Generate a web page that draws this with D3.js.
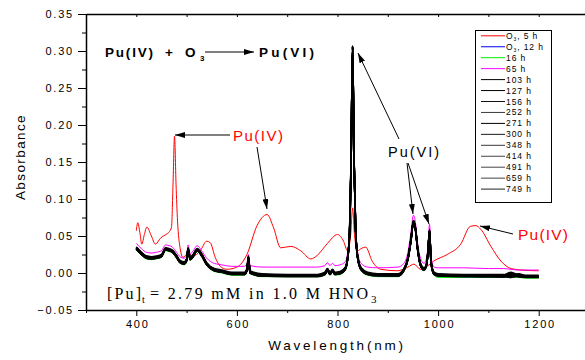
<!DOCTYPE html>
<html><head><meta charset="utf-8">
<script src="https://cdn.jsdelivr.net/npm/d3@7"></script>
<style>
html,body{margin:0;padding:0;background:#fff;}
svg{display:block;font-family:"Liberation Sans",Arial,sans-serif;}
</style></head>
<body><svg id="c" width="585" height="360"></svg>
<script>
// ---- data ----
const wlIV = [400,403,407,411,416,421,430,438,448,461,466,470,473,476,479,482,487,493,503,513,527,540,547,557,567,580,600,620,640,660,673,687,707,727,747,760,780,800,812,820,826,830,834,840,847,856,869,886,919,940,952,965,978,991,1018,1045,1064,1075,1085,1105,1125,1145,1165,1200];
const abs5h = [0.057,0.068,0.055,0.039,0.052,0.062,0.050,0.039,0.047,0.053,0.056,0.062,0.120,0.185,0.120,0.070,0.034,0.021,0.027,0.023,0.030,0.043,0.041,0.021,0.009,0.005,0.008,0.025,0.064,0.079,0.061,0.034,0.036,0.030,0.019,0.024,0.040,0.052,0.043,0.030,0.050,0.088,0.050,0.030,0.033,0.035,0.016,0.005,0.003,0.008,0.012,0.005,0.009,0.016,0.025,0.039,0.063,0.064,0.059,0.036,0.016,0.006,0.004,0.003];

const wlVI = [400,410,420,430,440,450,458,465,472,480,487,495,500,503,507,513,521,530,540,555,570,590,615,620,623,626,650,700,760,775,780,785,790,795,805,815,820,824,827,830,833,836,840,847,860,880,920,932,940,946,951,955,959,965,972,977,980,983,986,992,1000,1050,1100,1130,1145,1160,1175,1200];

const abs12h = [0.033,0.026,0.021,0.020,0.021,0.023,0.032,0.031,0.029,0.022,0.015,0.013,0.017,0.032,0.019,0.023,0.031,0.024,0.012,0.003,0.001,-0.002,-0.002,0.003,0.020,0.000,-0.004,-0.004,-0.004,-0.002,0.003,-0.002,0.002,-0.002,-0.001,0.004,0.018,0.053,0.148,0.303,0.148,0.058,0.020,0.004,-0.002,-0.004,-0.004,0.003,0.018,0.043,0.068,0.058,0.033,0.010,0.004,0.010,0.028,0.056,0.013,-0.002,-0.004,-0.005,-0.005,-0.005,-0.004,-0.005,-0.005,-0.005];
const abs16h = [0.031,0.024,0.019,0.018,0.019,0.021,0.030,0.029,0.027,0.020,0.013,0.011,0.015,0.030,0.017,0.021,0.029,0.022,0.010,0.002,0.000,-0.003,-0.003,0.002,0.019,-0.001,-0.005,-0.005,-0.005,-0.003,0.002,-0.003,0.001,-0.003,-0.002,0.003,0.017,0.052,0.147,0.302,0.147,0.057,0.019,0.003,-0.003,-0.005,-0.005,0.002,0.017,0.042,0.067,0.057,0.032,0.009,0.003,0.009,0.027,0.055,0.012,-0.003,-0.006,-0.006,-0.006,-0.006,-0.006,-0.006,-0.007,-0.007];
const abs65h = [0.040,0.033,0.028,0.027,0.028,0.030,0.038,0.037,0.035,0.028,0.022,0.020,0.024,0.038,0.026,0.030,0.037,0.030,0.020,0.013,0.011,0.009,0.009,0.013,0.025,0.010,0.008,0.008,0.008,0.010,0.014,0.010,0.013,0.010,0.011,0.015,0.027,0.060,0.150,0.300,0.150,0.065,0.028,0.013,0.008,0.007,0.008,0.013,0.028,0.055,0.078,0.068,0.042,0.020,0.013,0.020,0.038,0.066,0.022,0.008,0.007,0.007,0.006,0.006,0.005,0.004,0.004,0.004];
const abs103h = [0.034,0.027,0.022,0.021,0.022,0.024,0.033,0.032,0.030,0.023,0.016,0.014,0.018,0.033,0.020,0.024,0.032,0.025,0.013,0.005,0.003,0.000,0.000,0.005,0.022,0.002,-0.002,-0.003,-0.003,0.000,0.005,0.000,0.004,0.000,0.001,0.006,0.020,0.055,0.150,0.305,0.150,0.060,0.022,0.006,0.000,-0.002,-0.002,0.005,0.020,0.045,0.070,0.060,0.035,0.012,0.006,0.012,0.030,0.058,0.015,0.000,-0.002,-0.003,-0.003,-0.003,-0.002,-0.003,-0.004,-0.004];
const abs127h = [0.033,0.026,0.021,0.020,0.021,0.023,0.032,0.031,0.029,0.022,0.015,0.013,0.017,0.032,0.019,0.023,0.031,0.024,0.012,0.004,0.002,-0.001,-0.001,0.004,0.021,0.001,-0.003,-0.004,-0.004,-0.001,0.004,-0.001,0.003,-0.001,0.000,0.005,0.019,0.054,0.150,0.306,0.150,0.059,0.021,0.005,-0.001,-0.003,-0.003,0.004,0.019,0.044,0.069,0.059,0.034,0.011,0.005,0.011,0.029,0.057,0.014,-0.001,-0.003,-0.004,-0.004,-0.004,-0.001,-0.004,-0.005,-0.005];
const abs156h = [0.032,0.025,0.020,0.019,0.020,0.022,0.031,0.030,0.028,0.021,0.014,0.012,0.016,0.031,0.018,0.022,0.030,0.023,0.011,0.003,0.001,-0.002,-0.002,0.003,0.020,0.000,-0.004,-0.004,-0.004,-0.002,0.003,-0.002,0.002,-0.002,-0.001,0.004,0.018,0.053,0.148,0.304,0.148,0.058,0.020,0.004,-0.002,-0.003,-0.003,0.004,0.018,0.043,0.068,0.058,0.033,0.010,0.004,0.010,0.028,0.056,0.013,-0.002,-0.003,-0.004,-0.004,-0.005,-0.003,-0.002,-0.004,-0.005];
const abs252h = [0.033,0.027,0.022,0.020,0.021,0.023,0.032,0.031,0.029,0.022,0.015,0.013,0.017,0.032,0.019,0.023,0.031,0.024,0.012,0.004,0.002,-0.001,-0.001,0.004,0.021,0.001,-0.003,-0.003,-0.003,-0.001,0.004,-0.001,0.003,-0.001,0.000,0.005,0.019,0.055,0.152,0.307,0.152,0.060,0.021,0.005,-0.001,-0.003,-0.003,0.004,0.019,0.045,0.071,0.061,0.035,0.011,0.005,0.011,0.029,0.058,0.014,-0.001,-0.003,-0.003,-0.004,-0.003,0.000,-0.004,-0.005,-0.005];
const abs271h = [0.035,0.028,0.023,0.022,0.023,0.025,0.034,0.033,0.031,0.024,0.017,0.015,0.019,0.034,0.021,0.025,0.033,0.026,0.014,0.006,0.004,0.001,0.001,0.006,0.023,0.003,-0.001,-0.002,-0.002,0.001,0.006,0.001,0.005,0.001,0.002,0.007,0.021,0.056,0.152,0.306,0.152,0.061,0.023,0.007,0.001,-0.001,-0.001,0.006,0.021,0.046,0.071,0.061,0.036,0.013,0.007,0.013,0.031,0.059,0.016,0.001,-0.001,-0.002,-0.002,-0.002,-0.003,-0.003,-0.003,-0.003];
const abs300h = [0.033,0.026,0.021,0.020,0.021,0.023,0.032,0.031,0.029,0.022,0.015,0.013,0.017,0.032,0.019,0.023,0.031,0.024,0.012,0.004,0.002,-0.001,-0.001,0.004,0.021,0.001,-0.003,-0.004,-0.004,-0.001,0.004,-0.001,0.003,-0.001,0.000,0.005,0.019,0.054,0.149,0.305,0.149,0.059,0.021,0.005,-0.001,-0.003,-0.003,0.004,0.019,0.044,0.069,0.059,0.034,0.011,0.005,0.011,0.029,0.057,0.014,-0.001,-0.003,-0.004,-0.004,-0.004,-0.004,-0.001,-0.004,-0.005];
const abs348h = [0.032,0.025,0.020,0.019,0.020,0.022,0.031,0.030,0.028,0.021,0.014,0.012,0.016,0.031,0.018,0.022,0.030,0.023,0.011,0.003,0.001,-0.002,-0.002,0.003,0.020,0.000,-0.004,-0.005,-0.005,-0.002,0.003,-0.002,0.002,-0.002,-0.001,0.004,0.018,0.053,0.150,0.306,0.150,0.058,0.020,0.004,-0.002,-0.004,-0.004,0.003,0.018,0.043,0.069,0.059,0.033,0.010,0.004,0.010,0.028,0.057,0.013,-0.002,-0.004,-0.005,-0.005,-0.005,-0.002,-0.005,-0.006,-0.006];
const abs414h = [0.034,0.027,0.022,0.021,0.022,0.024,0.033,0.032,0.030,0.023,0.016,0.014,0.018,0.033,0.020,0.024,0.032,0.025,0.013,0.005,0.003,0.000,0.000,0.005,0.022,0.002,-0.002,-0.003,-0.003,0.000,0.005,0.000,0.004,0.000,0.001,0.006,0.020,0.056,0.151,0.307,0.151,0.060,0.022,0.006,0.000,-0.002,-0.002,0.005,0.020,0.045,0.070,0.060,0.035,0.012,0.006,0.012,0.030,0.058,0.015,0.000,-0.002,-0.003,-0.003,-0.004,-0.005,-0.002,-0.004,-0.004];
const abs491h = [0.033,0.026,0.021,0.020,0.021,0.023,0.032,0.031,0.029,0.022,0.015,0.013,0.017,0.032,0.019,0.023,0.031,0.024,0.012,0.004,0.002,-0.001,-0.002,0.003,0.021,0.000,-0.004,-0.004,-0.004,-0.001,0.004,-0.001,0.003,-0.001,0.000,0.005,0.019,0.054,0.150,0.305,0.150,0.059,0.021,0.005,-0.001,-0.003,-0.004,0.004,0.019,0.044,0.069,0.059,0.034,0.011,0.005,0.011,0.029,0.057,0.014,-0.001,-0.004,-0.004,-0.005,-0.005,-0.003,-0.005,-0.005,-0.005];
const abs659h = [0.035,0.028,0.023,0.022,0.022,0.024,0.033,0.032,0.030,0.023,0.016,0.014,0.018,0.033,0.020,0.024,0.032,0.025,0.013,0.005,0.003,0.000,-0.001,0.004,0.022,0.001,-0.003,-0.003,-0.003,0.000,0.005,0.000,0.004,0.000,0.001,0.006,0.020,0.055,0.150,0.306,0.150,0.060,0.022,0.006,0.000,-0.002,-0.003,0.005,0.020,0.045,0.070,0.060,0.035,0.012,0.006,0.012,0.030,0.058,0.015,0.000,-0.003,-0.003,-0.004,-0.003,0.001,-0.003,-0.004,-0.004];
const abs749h = [0.034,0.027,0.022,0.021,0.021,0.023,0.032,0.031,0.029,0.022,0.015,0.013,0.017,0.032,0.019,0.023,0.031,0.024,0.012,0.004,0.002,-0.001,-0.001,0.004,0.021,0.001,-0.003,-0.004,-0.004,-0.001,0.004,-0.001,0.003,-0.001,0.000,0.005,0.019,0.055,0.151,0.305,0.151,0.060,0.021,0.005,-0.001,-0.003,-0.003,0.004,0.019,0.045,0.070,0.060,0.034,0.011,0.005,0.011,0.029,0.058,0.014,-0.001,-0.003,-0.004,-0.004,-0.005,-0.006,-0.004,-0.005,-0.005];

const seriesLabels = ["O3, 5 h","O3, 12 h","16 h","65 h","103 h","127 h","156 h","252 h","271 h","300 h","348 h","414 h","491 h","659 h","749 h"];
const seriesValues = [abs5h,abs12h,abs16h,abs65h,abs103h,abs127h,abs156h,abs252h,abs271h,abs300h,abs348h,abs414h,abs491h,abs659h,abs749h];
const seriesColors = ["#ff0000","#0000ff","#00ee00","#ff00ff","#000000","#000000","#111111","#3a3a3a","#000000","#1a1a1a","#3a3a3a","#444444","#444444","#444444","#222222"];
const xMajorTicks = [400,600,800,1000,1200];
const xMinorTicks = [300,500,700,900,1100,1300];
const yMajorTicks = [-0.05,0.00,0.05,0.10,0.15,0.20,0.25,0.30,0.35];
const yMinorTicks = [-0.025,0.025,0.075,0.125,0.175,0.225,0.275,0.325];

// ---- chart ----
const svg = d3.select("#c");
const x = d3.scaleLinear().domain([300,1300]).range([86,589]);
const y = d3.scaleLinear().domain([-0.05,0.35]).range([310,14]);

const defs = svg.append("defs");
defs.append("marker").attr("id","ah").attr("viewBox","0 0 10 6").attr("refX",10).attr("refY",3)
  .attr("markerWidth",10).attr("markerHeight",6).attr("markerUnits","userSpaceOnUse").attr("orient","auto")
  .append("path").attr("d","M0,0 L10,3 L0,6 Z").attr("fill","#000");

// curves
const line = d3.line().x(d=>x(d[0])).y(d=>y(d[1])).curve(d3.curveMonotoneX);
const order = [0,3,2,1,4,5,6,7,8,9,10,11,12,13,14];
order.forEach(i=>{
  const wl = i===0 ? wlIV : wlVI;
  const pts = wl.map((w,k)=>[w, seriesValues[i][k]]);
  svg.append("path").attr("d", line(pts)).attr("fill","none")
    .attr("stroke", i>=4 ? "#000" : seriesColors[i]).attr("stroke-width", i<4 ? 1 : 1.6)
    .attr("stroke-linejoin","round");
});

// axes
const tickFont = g => g.selectAll("text").attr("font-size",11).attr("fill","#000")
  .attr("font-family","'Liberation Sans',Arial,sans-serif").style("letter-spacing","1.8px");
const gB = svg.append("g").attr("transform","translate(0,310)")
  .call(d3.axisBottom(x).tickValues(xMajorTicks).tickSize(6).tickSizeOuter(0).tickPadding(4).tickFormat(d3.format("d")));
gB.call(tickFont);
gB.selectAll("text").attr("dx", 1);
svg.append("g").attr("transform","translate(0,310)")
  .call(d3.axisBottom(x).tickValues(xMinorTicks).tickSize(3).tickFormat("")).select(".domain").remove();
const gT = svg.append("g").attr("transform","translate(0,14)")
  .call(d3.axisBottom(x).tickValues(xMajorTicks.concat(xMinorTicks)).tickSize(3).tickSizeOuter(0).tickFormat(""));
const gL = svg.append("g").attr("transform","translate(86,0)")
  .call(d3.axisLeft(y).tickValues(yMajorTicks).tickSize(8).tickSizeOuter(0).tickPadding(4).tickFormat(d3.format(".2f")));
gL.call(tickFont);
svg.append("g").attr("transform","translate(86,0)")
  .call(d3.axisLeft(y).tickValues(yMinorTicks).tickSize(4).tickFormat("")).select(".domain").remove();
svg.selectAll(".domain").attr("stroke-width",1.5);
svg.selectAll(".tick line").attr("stroke-width",1);

// axis titles
svg.append("text").attr("x",337).attr("y",350).attr("text-anchor","middle")
  .attr("font-size",13.5).style("letter-spacing","2.8px").text("Wavelength(nm)");
svg.append("text").attr("transform","translate(25,157) rotate(-90)").attr("text-anchor","middle")
  .attr("font-size",13.5).style("letter-spacing","1.4px").text("Absorbance");

// reaction title
const tt = svg.append("g").attr("font-weight","bold").attr("font-size",13.5);
tt.append("text").attr("x",105).attr("y",57).attr("textLength",48).attr("lengthAdjust","spacing").text("Pu(IV)");
tt.append("text").attr("x",165).attr("y",57).text("+");
tt.append("text").attr("x",185).attr("y",57).text("O");
tt.append("text").attr("x",200).attr("y",61).attr("font-size",8).text("3");
tt.append("text").attr("x",259).attr("y",57).attr("textLength",55).attr("lengthAdjust","spacing").text("Pu(VI)");
svg.append("line").attr("x1",205).attr("y1",52).attr("x2",254).attr("y2",52)
  .attr("stroke","#000").attr("stroke-width",1).attr("marker-end","url(#ah)");

// annotations
const arrow = (x1,y1,x2,y2)=> svg.append("line").attr("x1",x1).attr("y1",y1).attr("x2",x2).attr("y2",y2)
  .attr("stroke","#000").attr("stroke-width",1).attr("marker-end","url(#ah)");
svg.append("text").attr("x",233).attr("y",141).attr("font-size",15).attr("fill","#ff0000")
  .attr("textLength",50).attr("lengthAdjust","spacing").text("Pu(IV)");
arrow(230,135,175,135);
arrow(257,147,267,209);
svg.append("text").attr("x",388).attr("y",157).attr("font-size",14.5).attr("fill","#000")
  .attr("textLength",51).attr("lengthAdjust","spacing").text("Pu(VI)");
arrow(399,139,358,53);
arrow(407,163,413,214);
arrow(408,163,429,224);
svg.append("text").attr("x",518).attr("y",240).attr("font-size",15.5).attr("fill","#ff0000")
  .attr("textLength",50).attr("lengthAdjust","spacing").text("Pu(IV)");
arrow(513,234,480,226);

// concentration note
const nt = svg.append("g").attr("font-family","'Liberation Serif','Times New Roman',serif").attr("font-size",16);
nt.append("text").attr("x",107).attr("y",299).attr("textLength",34).attr("lengthAdjust","spacing").text("[Pu]");
nt.append("text").attr("x",142).attr("y",303).attr("font-size",10).text("t");
nt.append("text").attr("x",150).attr("y",299).attr("textLength",218).attr("lengthAdjust","spacing").text("= 2.79 mM in 1.0 M HNO");
nt.append("text").attr("x",371).attr("y",303).attr("font-size",11).text("3");

// legend
const lg = svg.append("g");
lg.append("rect").attr("x",475.5).attr("y",30.5).attr("width",76).attr("height",172)
  .attr("fill","#fff").attr("stroke","#000").attr("stroke-width",1);
seriesLabels.forEach((lab,i)=>{
  const yy = 35.8 + i*10.95;
  lg.append("line").attr("x1",481).attr("x2",505).attr("y1",yy).attr("y2",yy)
    .attr("stroke",seriesColors[i]).attr("stroke-width",1);
  const t = lg.append("text").attr("x",506).attr("y",yy+3).attr("font-size",8.5).style("letter-spacing","0.9px");
  if (lab.startsWith("O3")) {
    t.append("tspan").text("O");
    t.append("tspan").attr("font-size",5).attr("dy",2).text("3");
    t.append("tspan").attr("dy",-2).text(lab.slice(2));
  } else t.text(lab);
});
</script></body></html>
